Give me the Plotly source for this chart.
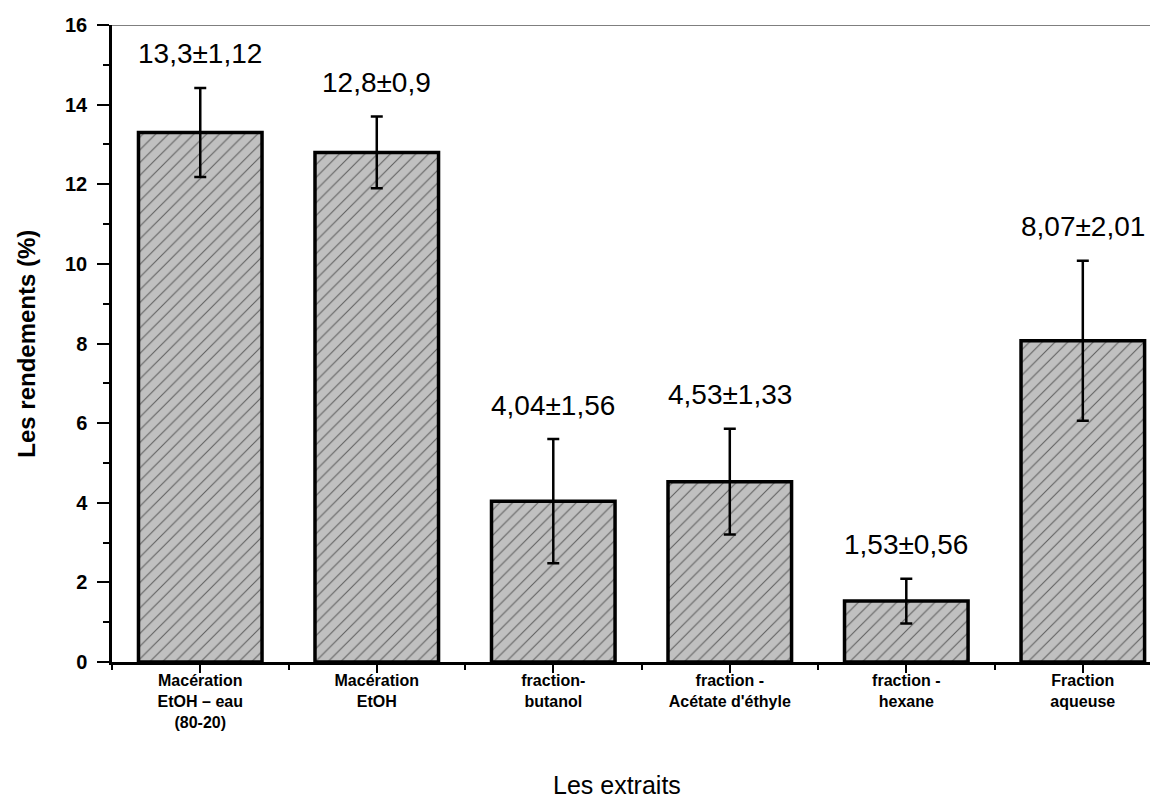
import plotly.graph_objects as go

categories = [
    "Macération<br>EtOH – eau<br>(80-20)",
    "Macération<br>EtOH",
    "fraction-<br>butanol",
    "fraction -<br>Acétate d'éthyle",
    "fraction -<br>hexane",
    "Fraction<br>aqueuse",
]
values = [13.3, 12.8, 4.04, 4.53, 1.53, 8.07]
errors = [1.12, 0.9, 1.56, 1.33, 0.56, 2.01]
labels = ["13,3±1,12", "12,8±0,9", "4,04±1,56", "4,53±1,33", "1,53±0,56", "8,07±2,01"]
y_ticks = [0, 2, 4, 6, 8, 10, 12, 14, 16]

xpos = list(range(len(categories)))
FONT = "Liberation Sans, Arial"

fig = go.Figure()
fig.add_trace(go.Bar(
    x=xpos, y=values, width=0.7,
    marker=dict(
        color="#c0c0c0",
        line=dict(color="black", width=3.5),
        pattern=dict(shape="/", fgcolor="black", bgcolor="#c0c0c0", size=9, solidity=0.12),
    ),
    error_y=dict(type="data", array=errors, visible=True, color="black", thickness=2.5, width=6),
    showlegend=False,
))

for xp, v, e, t in zip(xpos, values, errors, labels):
    fig.add_annotation(x=xp, y=v + e, text=t, showarrow=False, yanchor="middle", yshift=34,
                       font=dict(family=FONT, size=28, color="black"))

fig.add_shape(type="line", xref="paper", yref="y", x0=0, x1=1, y0=16, y1=16,
              line=dict(color="black", width=1))

# axis titles
fig.add_annotation(xref="paper", yref="paper", x=0.483, y=-0.193, text="Les extraits",
                   showarrow=False, xanchor="center", yanchor="middle",
                   font=dict(family=FONT, size=25, color="black"))
fig.add_annotation(xref="paper", yref="paper", x=-0.082, y=0.5, text="<b>Les rendements (%)</b>",
                   showarrow=False, xanchor="center", yanchor="middle", textangle=-90,
                   font=dict(family=FONT, size=24, color="black"))

fig.update_layout(
    width=1150, height=792,
    margin=dict(l=104, r=0, t=17, b=138),
    plot_bgcolor="white", paper_bgcolor="white",
    font=dict(family=FONT, color="black"),
)
fig.update_xaxes(
    range=[-0.5, 5.426], tickmode="array", tickvals=xpos, ticktext=categories,
    tickfont=dict(size=16, family=FONT, weight="bold"), automargin=False,
    ticklabelstandoff=-6,
    showgrid=False, zeroline=False, showline=True, linecolor="black", linewidth=2.5,
    ticks="outside", ticklen=8, tickwidth=2, tickcolor="black",
    minor=dict(tickmode="linear", tick0=-0.5, dtick=1, ticks="outside", ticklen=5, tickwidth=2, tickcolor="black"),
)
fig.update_yaxes(
    range=[0, 16], tickmode="array", tickvals=y_ticks,
    tickfont=dict(size=20, family=FONT, weight="bold"), automargin=False,
    ticklabelstandoff=6,
    showgrid=False, zeroline=False, showline=True, linecolor="black", linewidth=2.5,
    ticks="outside", ticklen=12, tickwidth=2, tickcolor="black",
    minor=dict(tickmode="linear", tick0=1, dtick=2, ticks="outside", ticklen=6, tickwidth=2, tickcolor="black"),
)

fig.write_html("out.html")
